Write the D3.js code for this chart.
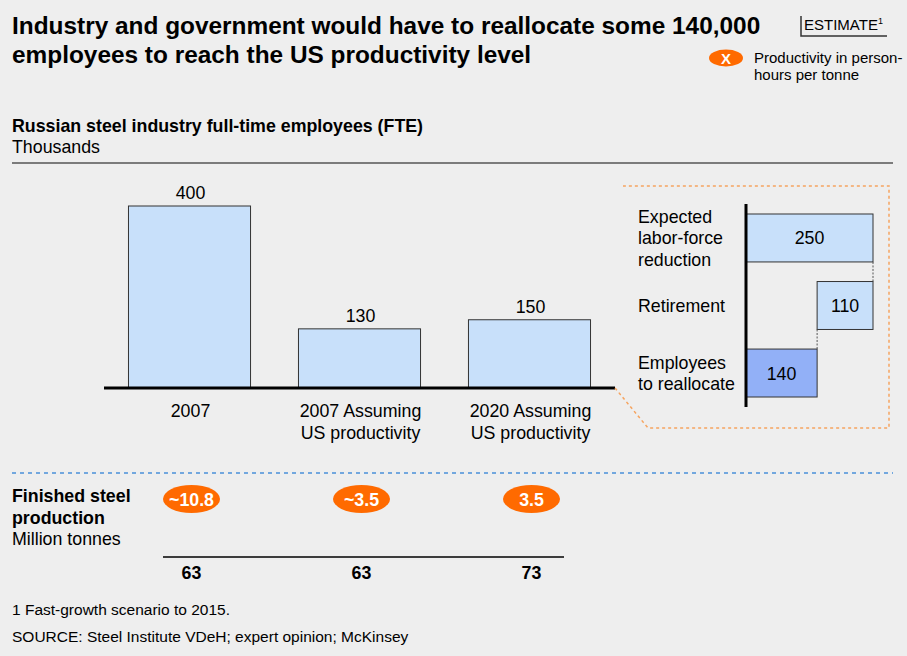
<!DOCTYPE html>
<html>
<head>
<meta charset="utf-8">
<script src="https://cdn.jsdelivr.net/npm/d3@7"></script>
<style>
  html, body { margin: 0; padding: 0; background: #eeeeee; }
  svg { display: block; font-family: "Liberation Sans", Arial, sans-serif; }
</style>
</head>
<body>
<svg id="chart" width="907" height="656"></svg>
<script>
// Employees (thousands) per scenario
const categories = ["2007", "2007 Assuming\nUS productivity", "2020 Assuming\nUS productivity"];
const employees = [400, 130, 150];

// Productivity (person-hours per tonne) and finished steel production (million tonnes)
const productivityLabels = ["~10.8", "~3.5", "3.5"];
const production = [63, 63, 73];

// Bridge from expected reduction to employees to reallocate
const bridgeLabels = ["Expected\nlabor-force\nreduction", "Retirement", "Employees\nto reallocate"];
const bridgeValues = [250, 110, 140];
const bridgeKinds = ["total", "decrease", "total"];

const svg = d3.select("#chart");
const LIGHT = "#c8e0fa", DARK = "#92b0f7", ORANGE = "#ff6a00";
const FS = 17.8;

// ---- Title block ----
const title = svg.append("g").attr("font-weight", "bold").attr("font-size", 24.4).attr("fill", "#000");
title.append("text").attr("x", 12).attr("y", 34).text("Industry and government would have to reallocate some 140,000");
title.append("text").attr("x", 12).attr("y", 63).text("employees to reach the US productivity level");

// Estimate tag
const tag = svg.append("g");
tag.append("text").attr("x", 804).attr("y", 30).attr("font-size", 15)
  .text("ESTIMATE")
  .append("tspan").attr("font-size", 9).attr("dy", -6).text("1");
tag.append("path").attr("d", "M801,16 V36 H887").attr("fill", "none").attr("stroke", "#333").attr("stroke-width", 1.5);

// Legend
svg.append("ellipse").attr("cx", 726).attr("cy", 58).attr("rx", 17).attr("ry", 8.5).attr("fill", ORANGE);
svg.append("text").attr("x", 726).attr("y", 63.5).attr("text-anchor", "middle").attr("font-size", 15)
  .attr("font-weight", "bold").attr("fill", "#fff").text("X");
const leg = svg.append("text").attr("font-size", 15).attr("fill", "#000");
leg.append("tspan").attr("x", 754).attr("y", 63).text("Productivity in person-");
leg.append("tspan").attr("x", 754).attr("y", 80).text("hours per tonne");

// ---- Chart header ----
svg.append("text").attr("x", 12).attr("y", 132).attr("font-size", FS).attr("font-weight", "bold")
  .text("Russian steel industry full-time employees (FTE)");
svg.append("text").attr("x", 12).attr("y", 153).attr("font-size", FS).text("Thousands");
svg.append("line").attr("x1", 12).attr("x2", 893).attr("y1", 163).attr("y2", 163)
  .attr("stroke", "#555").attr("stroke-width", 1.5);

// ---- Main bars ----
const x = d3.scaleBand().domain(categories).range([104, 615]).paddingInner(0.282).paddingOuter(0.144);
const y = d3.scaleLinear().domain([0, 400]).range([388, 206]);

const bars = svg.append("g");
bars.selectAll("rect").data(categories).join("rect")
  .attr("x", d => x(d)).attr("width", x.bandwidth())
  .attr("y", (d, i) => y(employees[i])).attr("height", (d, i) => y(0) - y(employees[i]))
  .attr("fill", LIGHT).attr("stroke", "#333").attr("stroke-width", 1);
bars.selectAll("text.val").data(categories).join("text").attr("class", "val")
  .attr("x", d => x(d) + x.bandwidth() / 2 + 1).attr("y", (d, i) => y(employees[i]) - 7)
  .attr("text-anchor", "middle").attr("font-size", FS).text((d, i) => employees[i]);

// Baseline
svg.append("line").attr("x1", 104).attr("x2", 615).attr("y1", y(0)).attr("y2", y(0))
  .attr("stroke", "#000").attr("stroke-width", 3);

// Category labels
const catText = svg.append("g").selectAll("text").data(categories).join("text")
  .attr("font-size", FS).attr("text-anchor", "middle");
catText.each(function (d) {
  const lines = d.split("\n");
  const t = d3.select(this);
  lines.forEach((ln, k) => {
    t.append("tspan").attr("x", x(d) + x.bandwidth() / 2 + 1).attr("y", 417 + k * 21.5).text(ln);
  });
});

// ---- Callout to bridge ----
svg.append("path").attr("d", "M615,388 L648,428 L889,428 L889,186 L623,186")
  .attr("fill", "none").attr("stroke", "#f79646").attr("stroke-opacity", 0.85)
  .attr("stroke-width", 1.5).attr("stroke-dasharray", "3,3");

// ---- Bridge (waterfall) ----
const bx = d3.scaleLinear().domain([0, 250]).range([746, 873]);
const by = d3.scaleBand().domain(bridgeLabels).range([204, 407]).paddingInner(0.29).paddingOuter(0.148);

let running = 0;
const steps = bridgeLabels.map((lab, i) => {
  const v = bridgeValues[i];
  let x0, x1;
  if (bridgeKinds[i] === "total") { x0 = 0; x1 = v; running = v; }
  else { x0 = running - v; x1 = running; running = running - v; }
  return { lab, v, x0, x1, kind: bridgeKinds[i], last: i === bridgeLabels.length - 1 };
});

const wf = svg.append("g");
wf.selectAll("rect").data(steps).join("rect")
  .attr("x", d => bx(d.x0)).attr("width", d => bx(d.x1) - bx(d.x0))
  .attr("y", d => by(d.lab)).attr("height", by.bandwidth())
  .attr("fill", d => d.last ? DARK : LIGHT).attr("stroke", "#333").attr("stroke-width", 1);
wf.selectAll("text.v").data(steps).join("text").attr("class", "v")
  .attr("x", d => (bx(d.x0) + bx(d.x1)) / 2).attr("y", d => by(d.lab) + by.bandwidth() / 2 + 6.5)
  .attr("text-anchor", "middle").attr("font-size", FS).text(d => d.v);

// Connectors between consecutive steps
for (let i = 0; i < steps.length - 1; i++) {
  const a = steps[i], b = steps[i + 1];
  const cx = b.kind === "decrease" ? bx(b.x1) : bx(a.x0);
  wf.append("line").attr("x1", cx).attr("x2", cx)
    .attr("y1", by(a.lab) + by.bandwidth()).attr("y2", by(b.lab))
    .attr("stroke", "#555").attr("stroke-width", 1).attr("stroke-dasharray", "2,1.5");
}

// Bridge axis
svg.append("line").attr("x1", 746).attr("x2", 746).attr("y1", 204).attr("y2", 407)
  .attr("stroke", "#000").attr("stroke-width", 3);

// Bridge row labels
const rowText = svg.append("g").selectAll("text").data(steps).join("text").attr("font-size", FS);
rowText.each(function (d) {
  const lines = d.lab.split("\n");
  const t = d3.select(this);
  const mid = by(d.lab) + by.bandwidth() / 2;
  const start = mid + 6.5 - (lines.length - 1) * 21.5 / 2;
  lines.forEach((ln, k) => t.append("tspan").attr("x", 638).attr("y", start + k * 21.5).text(ln));
});

// ---- Separator ----
svg.append("line").attr("x1", 12).attr("x2", 893).attr("y1", 473).attr("y2", 473)
  .attr("stroke", "#4a90d9").attr("stroke-width", 1.3).attr("stroke-dasharray", "4,4");

// ---- Production section ----
const prod = svg.append("text").attr("font-size", FS);
prod.append("tspan").attr("x", 12).attr("y", 502).attr("font-weight", "bold").text("Finished steel");
prod.append("tspan").attr("x", 12).attr("y", 523.5).attr("font-weight", "bold").text("production");
prod.append("tspan").attr("x", 12).attr("y", 545).text("Million tonnes");

const pg = svg.append("g");
pg.selectAll("ellipse").data(categories).join("ellipse")
  .attr("cx", d => x(d) + x.bandwidth() / 2 + 2).attr("cy", 499).attr("rx", 28.5).attr("ry", 14)
  .attr("fill", ORANGE);
pg.selectAll("text.p").data(categories).join("text").attr("class", "p")
  .attr("x", d => x(d) + x.bandwidth() / 2 + 2).attr("y", 505.5).attr("text-anchor", "middle")
  .attr("font-size", FS).attr("font-weight", "bold").attr("fill", "#fff")
  .text((d, i) => productivityLabels[i]);

svg.append("line").attr("x1", 163).attr("x2", 564).attr("y1", 557).attr("y2", 557)
  .attr("stroke", "#000").attr("stroke-width", 1.5);
pg.selectAll("text.q").data(categories).join("text").attr("class", "q")
  .attr("x", d => x(d) + x.bandwidth() / 2 + 2).attr("y", 579).attr("text-anchor", "middle")
  .attr("font-size", FS).attr("font-weight", "bold").text((d, i) => production[i]);

// ---- Footnotes ----
svg.append("text").attr("x", 12).attr("y", 615).attr("font-size", 15.5).text("1 Fast-growth scenario to 2015.");
svg.append("text").attr("x", 12).attr("y", 642).attr("font-size", 15.5)
  .text("SOURCE: Steel Institute VDeH; expert opinion; McKinsey");
</script>
</body>
</html>
